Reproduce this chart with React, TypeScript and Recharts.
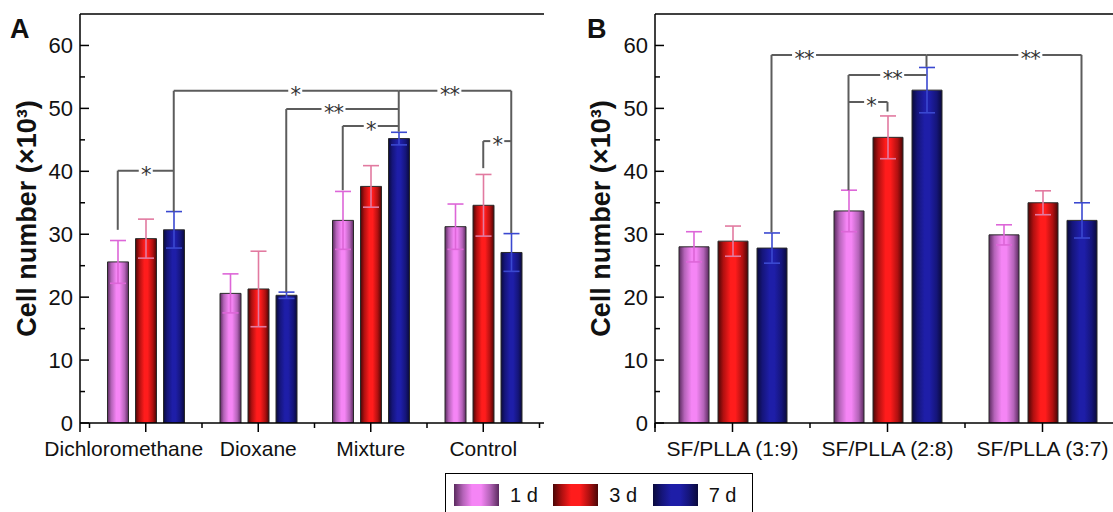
import React from "react";
import {
  BarChart,
  Bar,
  XAxis,
  YAxis,
  ErrorBar,
  ReferenceLine,
  ReferenceDot,
} from "recharts";

const FONT = '"Liberation Sans", Arial, Helvetica, sans-serif';

// Panel A – solvents
const categoriesA = ["Dichloromethane", "Dioxane", "Mixture", "Control"];
const day1A = [25.6, 20.6, 32.2, 31.2];
const day1ErrA = [3.4, 3.1, 4.6, 3.6];
const day3A = [29.3, 21.3, 37.6, 34.6];
const day3ErrA = [3.1, 6.0, 3.3, 4.9];
const day7A = [30.7, 20.3, 45.2, 27.1];
const day7ErrA = [2.9, 0.5, 1.0, 3.0];

// Panel B – SF/PLLA ratios
const categoriesB = ["SF/PLLA (1:9)", "SF/PLLA (2:8)", "SF/PLLA (3:7)"];
const day1B = [28.0, 33.7, 29.9];
const day1ErrB = [2.4, 3.3, 1.6];
const day3B = [28.9, 45.4, 35.0];
const day3ErrB = [2.4, 3.4, 1.9];
const day7B = [27.8, 52.9, 32.2];
const day7ErrB = [2.4, 3.6, 2.8];

const seriesNames = ["1 d", "3 d", "7 d"];
const yTicks = [0, 5, 10, 15, 20, 25, 30, 35, 40, 45, 50, 55, 60];
const xTicksA = [0.5, 1, 1.5, 2, 2.5, 3, 3.5, 4, 4.5];
const xTicksB = [0.5, 1, 1.5, 2, 2.5, 3, 3.5];

// significance brackets: group/series of both ends, bracket height, stars,
// where the stars sit along the bar, and where the drops end
const bracketsA = [
  { g1: 0, s1: 0, g2: 0, s2: 2, y: 40.1, star: "*", at: 0.5, end1: 30.7 },
  { g1: 0, s1: 2, g2: 2, s2: 2, y: 52.8, star: "*", at: 0.54, end1: 33.6, end2: 46.3 },
  { g1: 2, s1: 2, g2: 3, s2: 2, y: 52.8, star: "**", at: 0.45, end2: 30.2 },
  { g1: 1, s1: 2, g2: 2, s2: 2, y: 49.9, star: "**", at: 0.42, end1: 20.8 },
  { g1: 2, s1: 0, g2: 2, s2: 2, y: 47.2, star: "*", at: 0.5, end1: 37.0 },
  { g1: 3, s1: 1, g2: 3, s2: 2, y: 44.8, star: "*", at: 0.5, end1: 40.5 },
];
const bracketsB = [
  { g1: 0, s1: 2, g2: 1, s2: 2, y: 58.5, star: "**", at: 0.21, end1: 30.3, end2: 56.6 },
  { g1: 1, s1: 2, g2: 2, s2: 2, y: 58.5, star: "**", at: 0.67, end2: 35.1 },
  { g1: 1, s1: 0, g2: 1, s2: 2, y: 55.3, star: "**", at: 0.56, end1: 37.0 },
  { g1: 1, s1: 0, g2: 1, s2: 1, y: 51.0, star: "*", at: 0.58, end2: 49.5 },
];

const gradients = [
  ["#5a2a5e", "#b463b8", "#f585f5", "#f585f5", "#b463b8", "#5a2a5e"],
  ["#4a0606", "#b01010", "#ff1c1c", "#ff1c1c", "#b01010", "#4a0606"],
  ["#0a0a3c", "#15157a", "#1e1ea8", "#1e1ea8", "#15157a", "#0a0a3c"],
];
const errColors = ["#dd66d8", "#e27aa0", "#3a48d0"];
const BRACKET = "#5c5c5c";

const buildRows = (
  cats: string[],
  d1: number[],
  e1: number[],
  d3: number[],
  e3: number[],
  d7: number[],
  e7: number[]
) =>
  cats.map((name, i) => ({
    name,
    pos: i + 1,
    d1: d1[i],
    e1: e1[i],
    d3: d3[i],
    e3: e3[i],
    d7: d7[i],
    e7: e7[i],
  }));

const dataA = buildRows(categoriesA, day1A, day1ErrA, day3A, day3ErrA, day7A, day7ErrA);
const dataB = buildRows(categoriesB, day1B, day1ErrB, day3B, day3ErrB, day7B, day7ErrB);

function GradDefs({ prefix }: { prefix: string }) {
  return (
    <defs>
      {gradients.map((stops, i) => (
        <linearGradient key={i} id={`${prefix}${i}`} x1="0" y1="0" x2="1" y2="0">
          {stops.map((c, j) => (
            <stop key={j} offset={`${[0, 18, 42, 58, 82, 100][j]}%`} stopColor={c} />
          ))}
        </linearGradient>
      ))}
    </defs>
  );
}

const YTick = (props: any) => {
  const { x, y, payload } = props;
  const major = payload.value % 10 === 0;
  return (
    <g>
      <line x1={x} x2={x + (major ? 9 : 5)} y1={y} y2={y} stroke="#000" strokeWidth={1.5} />
      {payload.value === 0 && (
        <line x1={x} x2={x} y1={y} y2={y + 9} stroke="#000" strokeWidth={1.5} />
      )}
      {major && (
        <text
          x={x - 7}
          y={y}
          dy="0.36em"
          textAnchor="end"
          fontSize={22}
          fill="#111"
          fontFamily={FONT}
        >
          {payload.value}
        </text>
      )}
    </g>
  );
};

const makeXTick = (labels: string[], shifts: number[]) => (props: any) => {
  const { x, y, payload } = props;
  const v = payload.value;
  const major = Number.isInteger(v);
  return (
    <g>
      <line x1={x} x2={x} y1={y} y2={y + (major ? 9 : 5)} stroke="#000" strokeWidth={1.5} />
      {major && (
        <text
          x={x + (shifts[v - 1] || 0)}
          y={y + 33}
          textAnchor="middle"
          fontSize={21}
          fill="#111"
          fontFamily={FONT}
        >
          {labels[v - 1]}
        </text>
      )}
    </g>
  );
};

const StarMark = ({ cx, cy, text }: { cx: number; cy: number; text: string }) => {
  const w = text.length > 1 ? 24 : 14;
  return (
    <g>
      <rect x={cx - w / 2} y={cy - 5} width={w} height={10} fill="#fff" />
      <text
        x={cx}
        y={cy + 11}
        textAnchor="middle"
        fontSize={21}
        fill="#333"
        letterSpacing={-1}
        fontFamily='"DejaVu Sans", sans-serif'
      >
        {text}
      </text>
    </g>
  );
};

function bracketMarks(list: any[], pitch: number, prefix: string) {
  const lines: React.ReactNode[] = [];
  const stars: React.ReactNode[] = [];
  list.forEach((b, i) => {
    const x1 = b.g1 + 1 + (b.s1 - 1) * pitch;
    const x2 = b.g2 + 1 + (b.s2 - 1) * pitch;
    const common = {
      xAxisId: "pos",
      stroke: BRACKET,
      strokeWidth: 2,
      ifOverflow: "visible" as const,
    };
    lines.push(
      <ReferenceLine key={`${prefix}h${i}`} {...common} segment={[{ x: x1, y: b.y }, { x: x2, y: b.y }]} />
    );
    if (b.end1 != null)
      lines.push(
        <ReferenceLine key={`${prefix}a${i}`} {...common} segment={[{ x: x1, y: b.y }, { x: x1, y: b.end1 }]} />
      );
    if (b.end2 != null)
      lines.push(
        <ReferenceLine key={`${prefix}b${i}`} {...common} segment={[{ x: x2, y: b.y }, { x: x2, y: b.end2 }]} />
      );
    stars.push(
      <ReferenceDot
        key={`${prefix}s${i}`}
        xAxisId="pos"
        x={x1 + (x2 - x1) * b.at}
        y={b.y}
        r={1}
        ifOverflow="visible"
        shape={(p: any) => <StarMark cx={p.cx} cy={p.cy} text={b.star} />}
      />
    );
  });
  return [...lines, ...stars];
}

const yLabel = (offset: number) => ({
  value: "Cell number (×10³)",
  angle: -90,
  position: "insideLeft" as const,
  offset,
  style: { textAnchor: "middle", fontWeight: "bold", fontSize: 27, fill: "#111", fontFamily: FONT },
});

export default function App() {
  const seriesKeys = [
    ["d1", "e1"],
    ["d3", "e3"],
    ["d7", "e7"],
  ];

  const renderBars = (prefix: string) =>
    seriesKeys.map(([k, e], i) => (
      <Bar
        key={k}
        xAxisId="cat"
        dataKey={k}
        name={seriesNames[i]}
        fill={`url(#${prefix}${i})`}
        stroke="#2a2a2a"
        strokeWidth={1}
        isAnimationActive={false}
      >
        <ErrorBar dataKey={e} width={8} stroke={errColors[i]} strokeWidth={1.6} direction="y" />
      </Bar>
    ));

  // bar pitch as a fraction of the category band
  const pitchA = (21 + 7) / 112.5;
  const pitchB = (30 + 9) / 155;

  return (
    <div
      style={{
        position: "absolute",
        left: 0,
        top: 0,
        width: 1113,
        height: 512,
        overflow: "hidden",
        background: "#fff",
        fontFamily: FONT,
      }}
    >
      <div style={{ position: "absolute", left: 0, top: 0 }}>
        <BarChart
          width={560}
          height={470}
          data={dataA}
          margin={{ top: 14, right: 16, bottom: 7, left: 0 }}
          barSize={21}
          barGap={7}
          style={{ overflow: "visible" }}
        >
          <GradDefs prefix="ga" />
          <XAxis
            xAxisId="cat"
            dataKey="name"
            type="category"
            hide
            height={0}
            padding={{ left: 9.5, right: 4.5 }}
          />
          <XAxis
            xAxisId="pos"
            dataKey="pos"
            type="number"
            domain={[0.5, 4.5]}
            ticks={xTicksA}
            interval={0}
            padding={{ left: 9.5, right: 4.5 }}
            tickSize={0}
            tickMargin={0}
            tickLine={false}
            axisLine={{ stroke: "#000", strokeWidth: 1.5 }}
            tick={makeXTick(categoriesA, [-22, 0, 0, 0])}
            height={40}
          />
          <YAxis
            domain={[0, 65]}
            allowDataOverflow
            ticks={yTicks}
            interval={0}
            tickSize={0}
            tickMargin={0}
            tickLine={false}
            axisLine={{ stroke: "#000", strokeWidth: 1.5 }}
            tick={YTick}
            width={80}
            label={yLabel(26)}
          />
          <YAxis
            yAxisId="frame"
            orientation="right"
            width={0}
            domain={[0, 65]}
            tick={false}
            tickLine={false}
            axisLine={{ stroke: "#000", strokeWidth: 1.5 }}
          />
          <ReferenceLine xAxisId="pos" y={65} stroke="#000" strokeWidth={1.5} ifOverflow="visible" />
          {renderBars("ga")}
          {bracketMarks(bracketsA, pitchA, "a")}
        </BarChart>
      </div>

      <div style={{ position: "absolute", left: 560, top: 0 }}>
        <BarChart
          width={560}
          height={470}
          data={dataB}
          margin={{ top: 14, right: 0, bottom: 7, left: 0 }}
          barSize={30}
          barGap={9}
          style={{ overflow: "visible" }}
        >
          <GradDefs prefix="gb" />
          <XAxis xAxisId="cat" dataKey="name" type="category" hide height={0} />
          <XAxis
            xAxisId="pos"
            dataKey="pos"
            type="number"
            domain={[0.5, 3.5]}
            ticks={xTicksB}
            interval={0}
            tickSize={0}
            tickMargin={0}
            tickLine={false}
            axisLine={{ stroke: "#000", strokeWidth: 1.5 }}
            tick={makeXTick(categoriesB, [0, 0, 0])}
            height={40}
          />
          <YAxis
            domain={[0, 65]}
            allowDataOverflow
            ticks={yTicks}
            interval={0}
            tickSize={0}
            tickMargin={0}
            tickLine={false}
            axisLine={{ stroke: "#000", strokeWidth: 1.5 }}
            tick={YTick}
            width={95}
            label={yLabel(40)}
          />
          <ReferenceLine xAxisId="pos" y={65} stroke="#000" strokeWidth={1.5} ifOverflow="visible" />
          {renderBars("gb")}
          {bracketMarks(bracketsB, pitchB, "b")}
        </BarChart>
      </div>

      <svg
        width={1113}
        height={512}
        style={{ position: "absolute", left: 0, top: 0, pointerEvents: "none" }}
      >
        <text x={10} y={38} fontSize={27} fontWeight="bold" fill="#111" fontFamily={FONT}>
          A
        </text>
        <text x={587} y={38} fontSize={27} fontWeight="bold" fill="#111" fontFamily={FONT}>
          B
        </text>
      </svg>

      <div
        style={{
          position: "absolute",
          left: 445,
          top: 473,
          width: 308,
          height: 60,
          border: "1.5px solid #000",
          boxSizing: "border-box",
          display: "flex",
          alignItems: "flex-start",
          paddingLeft: 8,
          paddingTop: 9.5,
        }}
      >
        {seriesNames.map((n, i) => (
          <div key={n} style={{ display: "flex", alignItems: "center", width: 105 }}>
            <span
              style={{
                display: "inline-block",
                width: 45,
                height: 22,
                background: `linear-gradient(to right, ${gradients[i].join(", ")})`,
              }}
            />
            <span style={{ marginLeft: 11, fontSize: 20, color: "#111", lineHeight: "22px" }}>{n}</span>
          </div>
        ))}
      </div>
    </div>
  );
}
